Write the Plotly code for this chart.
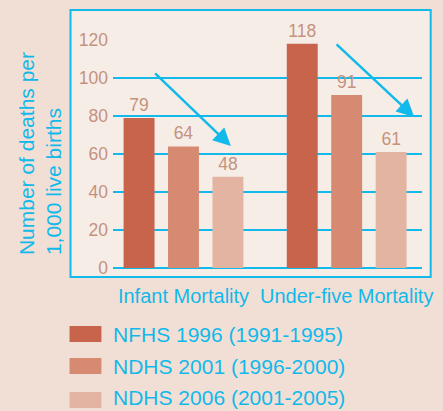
import plotly.graph_objects as go

categories = ["Infant Mortality", "Under-five Mortality"]
series_names = ["NFHS 1996 (1991-1995)", "NDHS 2001 (1996-2000)", "NDHS 2006 (2001-2005)"]
nfhs_1996 = [79, 118]
ndhs_2001 = [64, 91]
ndhs_2006 = [48, 61]
y_ticks = [0, 20, 40, 60, 80, 100, 120]

series_values = [nfhs_1996, ndhs_2001, ndhs_2006]
colors = ["#c8644c", "#d68a72", "#e4b4a2"]

CYAN = "#12b9ea"
TICKCOL = "#c4927f"
FONT = "Liberation Sans, Arial, sans-serif"
W, H = 443, 411
L, R, T, B = 113, 10, 40, 143
pw, ph = W - L - R, H - T - B


def px(x):
    return (x - L) / pw


def py(y):
    return (H - B - y) / ph


fig = go.Figure()
for name, vals, col in zip(series_names, series_values, colors):
    fig.add_trace(go.Bar(
        x=categories, y=vals, name=name, marker_color=col, marker_line_width=0,
        text=vals, textposition="outside", cliponaxis=False, constraintext="none",
        textfont=dict(size=17.5, color=TICKCOL, family=FONT), showlegend=False,
    ))

shapes = [dict(type="rect", xref="paper", yref="paper", layer="below",
               x0=px(69), x1=px(442), y0=py(277), y1=py(10),
               line=dict(color=CYAN, width=2), fillcolor="#f6ede7")]
annotations = []
legend_rows = [(334, 334), (366, 366), (400, 397)]
for name, col, (ys, yt) in zip(series_names, colors, legend_rows):
    shapes.append(dict(type="rect", xref="paper", yref="paper",
                       x0=px(68), x1=px(101), y0=py(ys + 8), y1=py(ys - 8),
                       line=dict(width=0), fillcolor=col))
    annotations.append(dict(xref="paper", yref="paper", x=px(111), y=py(yt),
                            xanchor="left", yanchor="middle", showarrow=False,
                            text=name, font=dict(size=21, color=CYAN, family=FONT)))

annotations.append(dict(xref="paper", yref="paper", x=px(37), y=py(153.5),
                        xanchor="center", yanchor="middle",
                        textangle=-90, showarrow=False, align="left",
                        text="Number of deaths per<br>1,000 live births",
                        font=dict(size=21, color=CYAN, family=FONT)))

# trend arrows
for (x0, y0, x1, y1) in [(-0.183, 103.2, 0.29, 64.2), (0.929, 118.4, 1.414, 79.5)]:
    annotations.append(dict(x=x1, y=y1, ax=x0, ay=y0, xref="x", yref="y",
                            axref="x", ayref="y", showarrow=True, arrowhead=2,
                            arrowsize=1.4, arrowwidth=2.5, arrowcolor=CYAN, text=""))

fig.update_layout(
    width=W, height=H, margin=dict(l=L, r=R, t=T, b=B),
    paper_bgcolor="#f1dfd5", plot_bgcolor="rgba(0,0,0,0)",
    barmode="group", bargap=0.183, bargroupgap=0.304,
    shapes=shapes, annotations=annotations, showlegend=False,
    font=dict(family=FONT),
)
fig.update_xaxes(range=[-0.432, 1.4615], showgrid=False, showline=False, ticks="",
                 tickfont=dict(size=20, color=CYAN, family=FONT), ticklabelstandoff=14,
                 fixedrange=True)
fig.update_yaxes(range=[0, 120], tickvals=y_ticks, showgrid=True, gridcolor=CYAN,
                 gridwidth=2, zeroline=True, zerolinecolor=CYAN, zerolinewidth=2,
                 showline=False, ticks="", ticklabelstandoff=4,
                 tickfont=dict(size=17.5, color=TICKCOL, family=FONT), fixedrange=True)

fig.write_html("out.html", config={"displayModeBar": False},
               post_script="document.body.style.margin='0';document.body.style.padding='0';")
